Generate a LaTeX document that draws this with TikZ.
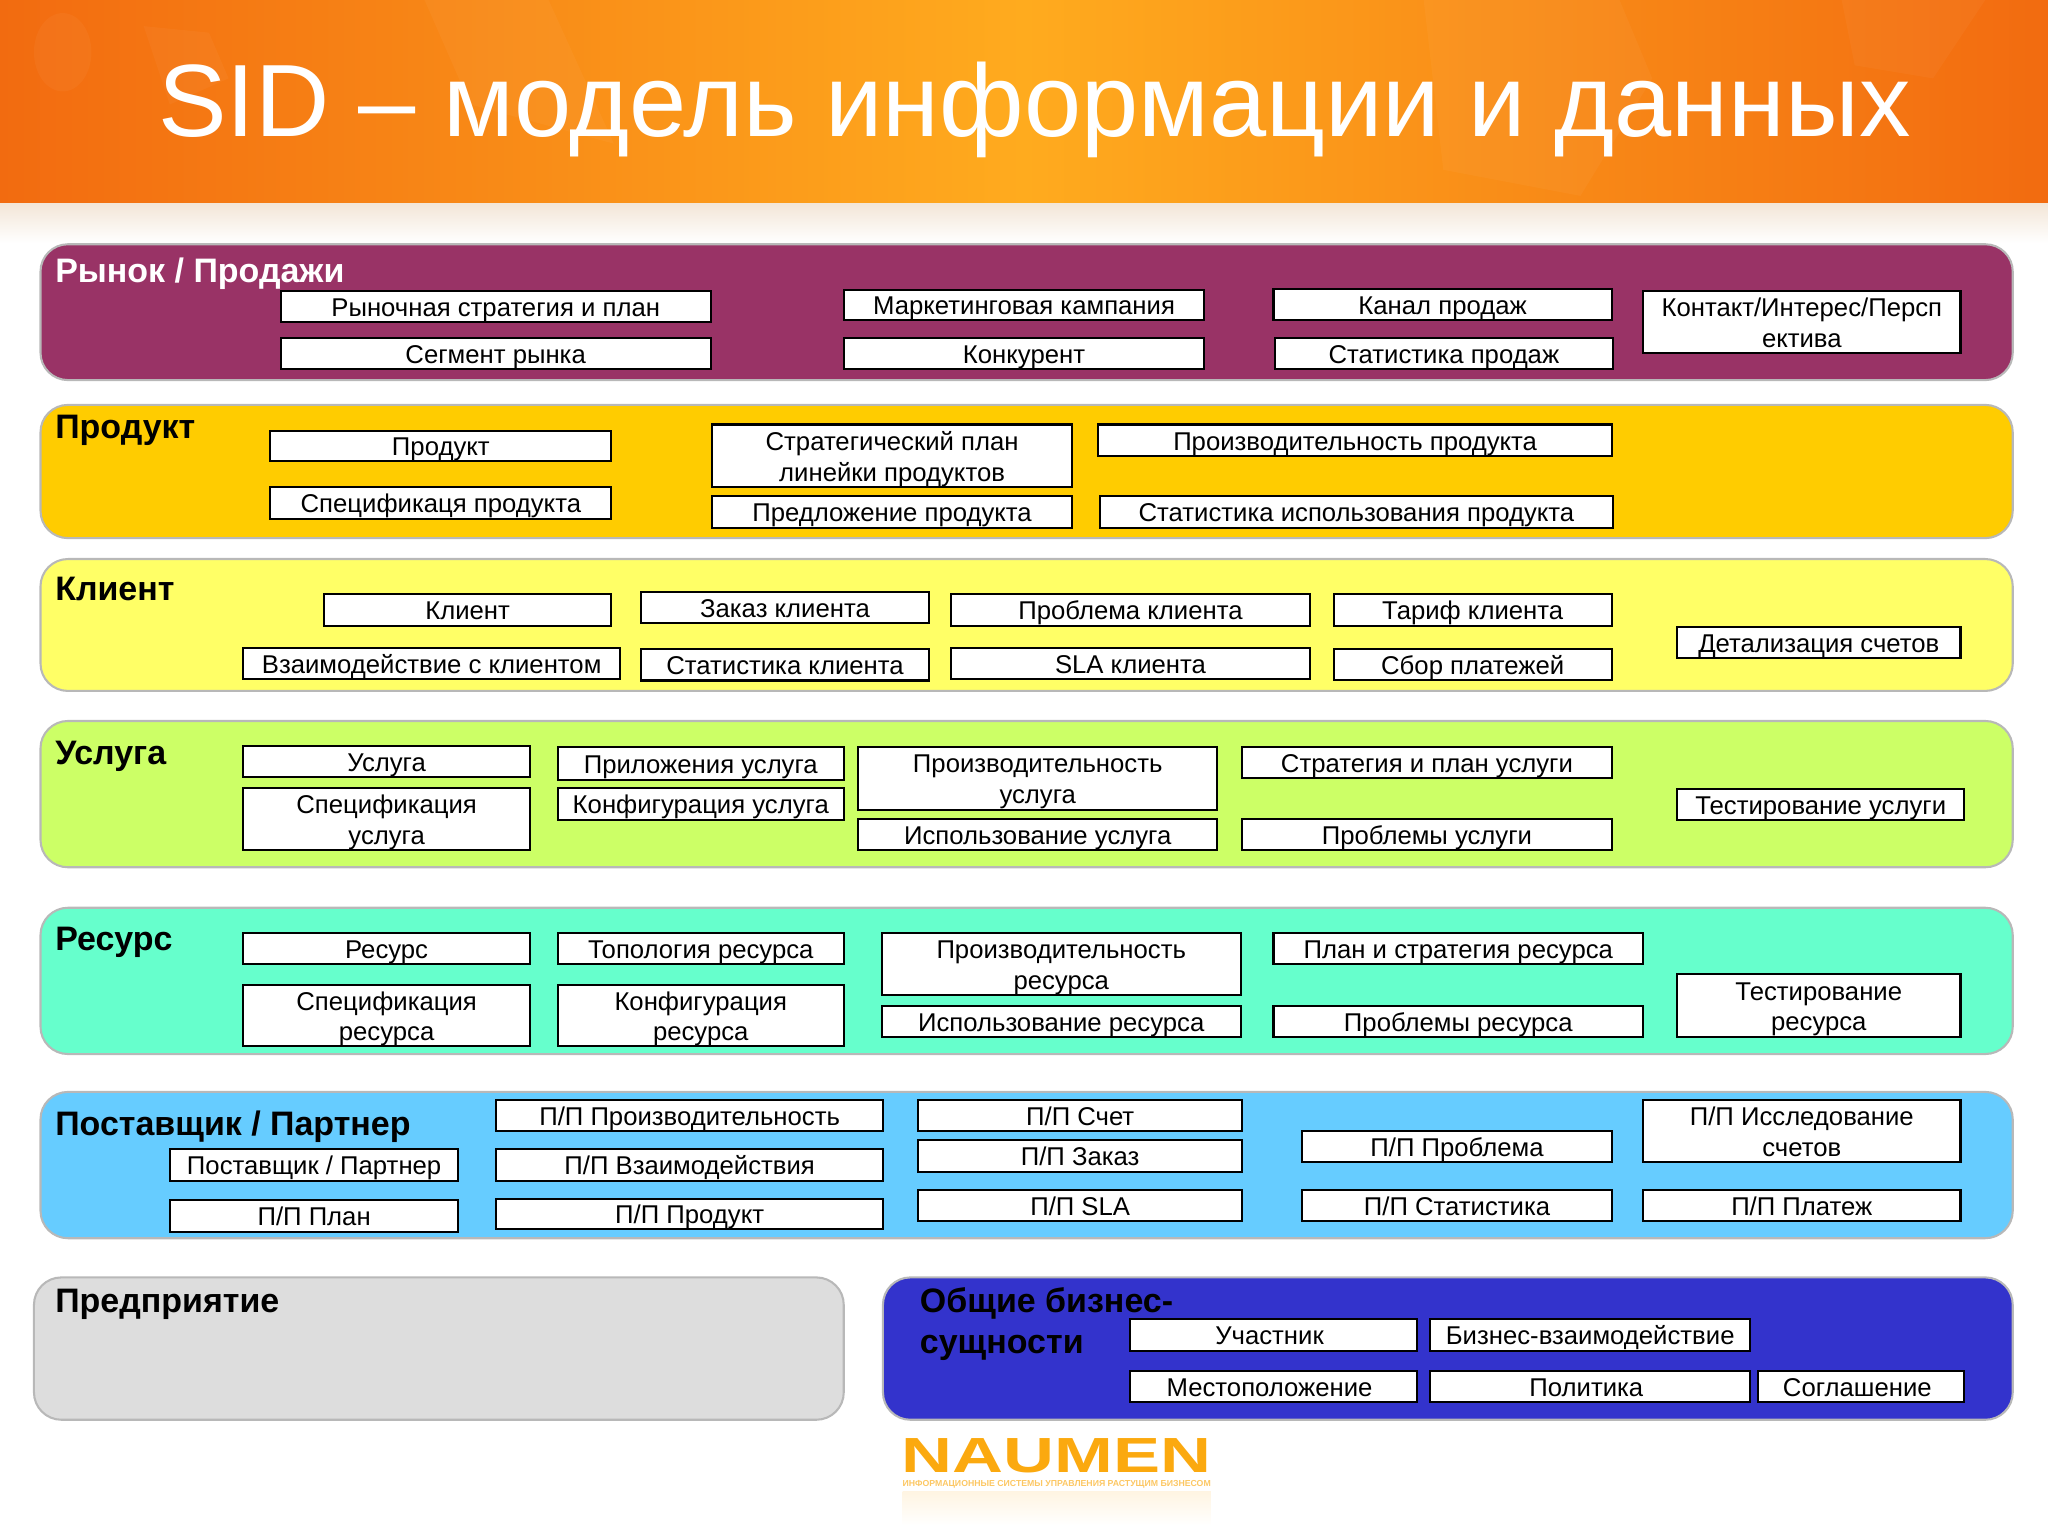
\documentclass[tikz,border=0pt]{standalone}
\usepackage{fontspec}
\setmainfont{Liberation Sans}
\newfontfamily\logofont[FakeStretch=1.43]{Liberation Sans}
\usepackage{xcolor}
\usetikzlibrary{positioning}

\definecolor{marketfill}{HTML}{993366}
\definecolor{productfill}{HTML}{FFCC00}
\definecolor{clientfill}{HTML}{FFFF66}
\definecolor{servicefill}{HTML}{CCFF66}
\definecolor{resourcefill}{HTML}{66FFCC}
\definecolor{supplierfill}{HTML}{66CCFF}
\definecolor{enterprisefill}{HTML}{DDDDDD}
\definecolor{commonfill}{HTML}{3333CC}
\definecolor{headedge}{HTML}{F26B10}
\definecolor{headmid}{HTML}{FFAB1E}
\definecolor{logoorange}{HTML}{FBA90F}
\definecolor{headshadow}{HTML}{F3E6D8}

\tikzset{
  panelbox/.style={draw=black!28, line width=0.9pt, rounded corners=0.42cm, inner sep=0pt},
  itembox/.style={draw=black, fill=white, line width=0.9pt, inner xsep=0pt, inner ysep=0pt,
    align=center, font=\fontsize{11.2}{13.4}\selectfont},
  paneltitle/.style={anchor=base west, inner sep=0pt, align=left,
    font=\fontsize{14.8}{17.7}\selectfont\bfseries},
  blobfill/.style={fill=white, opacity=0.035}
}

\newcommand{\itemstrut}{\rule[-2.4pt]{0pt}{13.4pt}}
\newcommand{\panelat}[6]{\node[panelbox, fill=#6, minimum width={(#4-#2)*0.02cm},
  minimum height={(#5-#3)*0.02cm}] (#1) at ({(#2+#4)/2},{(#3+#5)/2}) {};}
\newcommand{\itemat}[6]{\node[itembox, minimum width={(#4-#2)*0.02cm},
  minimum height={(#5-#3)*0.02cm}] (#1) at ({(#2+#4)/2},{(#3+#5)/2}) {\itemstrut#6\itemstrut};}

\begin{document}
\begin{tikzpicture}[x=0.02cm,y=-0.02cm]
  \useasboundingbox (0,0) rectangle (1568,1176);

  % header
  \fill[left color=headedge, right color=headedge, middle color=headmid] (0,0) rectangle (1568,155);
  \fill[blobfill] (48,40) ellipse (22 and 30);
  \fill[blobfill] (110,20) -- (160,25) -- (175,60) -- (130,80) -- cycle;
  \fill[blobfill] (325,0) -- (420,0) -- (470,110) -- (360,80) -- cycle;
  \fill[blobfill] (1090,0) -- (1240,0) -- (1265,60) -- (1210,150) -- (1105,130) -- cycle;
  \fill[blobfill] (1410,0) -- (1520,0) -- (1480,60) -- (1420,50) -- cycle;
  \fill[top color=headshadow, bottom color=white] (0,156) rectangle (1568,186);
  \node[text=white, font=\fontsize{44.8}{50}\selectfont] (title) at (792,84) {SID – модель информации и данных};

  % panels
  \panelat{market}{31}{187}{1541}{291}{marketfill}
  \panelat{product}{31}{310}{1541}{412}{productfill}
  \panelat{client}{31}{428}{1541}{529}{clientfill}
  \panelat{service}{31}{552}{1541}{664}{servicefill}
  \panelat{resource}{31}{695}{1541}{807}{resourcefill}
  \panelat{supplier}{31}{836}{1541}{948}{supplierfill}
  \panelat{enterprise}{26}{978}{646}{1087}{enterprisefill}
  \panelat{common}{676}{978}{1541}{1087}{commonfill}

  \node[paneltitle, text=white] (markettitle) at (42,216) {Рынок / Продажи};
  \node[paneltitle] (producttitle) at (42,336) {Продукт};
  \node[paneltitle] (clienttitle) at (42,460) {Клиент};
  \node[paneltitle] (servicetitle) at (42,585) {Услуга};
  \node[paneltitle] (resourcetitle) at (42,728) {Ресурс};
  \node[paneltitle] (suppliertitle) at (42,869) {Поставщик / Партнер};
  \node[paneltitle] (enterprisetitle) at (42,1005) {Предприятие};
  \node[paneltitle] (commontitle) at (704,1036) {Общие бизнес-\\сущности};

  % market
  \itemat{mktplan}{215}{223}{544}{246}{Рыночная стратегия и план}
  \itemat{mktsegment}{215}{259}{544}{282}{Сегмент рынка}
  \itemat{mktcampaign}{646}{222}{922}{245}{Маркетинговая кампания}
  \itemat{mktrival}{646}{259}{922}{282}{Конкурент}
  \itemat{mktchannel}{975}{221}{1234}{245}{Канал продаж}
  \itemat{mktstats}{976}{259}{1235}{282}{Статистика продаж}
  \itemat{mktcontact}{1258}{223}{1501}{270}{Контакт/Интерес/Персп\\ектива}

  % product
  \itemat{prod}{207}{330}{468}{353}{Продукт}
  \itemat{prodspec}{207}{373}{468}{397}{Спецификаця продукта}
  \itemat{prodplan}{545}{325}{821}{373}{Стратегический план\\линейки продуктов}
  \itemat{prodoffer}{545}{380}{821}{404}{Предложение продукта}
  \itemat{prodperf}{841}{325}{1234}{349}{Производительность продукта}
  \itemat{produse}{842}{380}{1235}{404}{Статистика использования продукта}

  % client
  \itemat{cli}{248}{455}{468}{479}{Клиент}
  \itemat{cliorder}{491}{453}{711}{477}{Заказ клиента}
  \itemat{cliissue}{728}{455}{1003}{479}{Проблема клиента}
  \itemat{clirate}{1021}{455}{1234}{479}{Тариф клиента}
  \itemat{cliact}{186}{496}{475}{520}{Взаимодействие с клиентом}
  \itemat{clistats}{491}{497}{711}{521}{Статистика клиента}
  \itemat{clisla}{728}{496}{1003}{520}{SLA клиента}
  \itemat{clipay}{1021}{497}{1234}{520}{Сбор платежей}
  \itemat{clibill}{1284}{480}{1501}{504}{Детализация счетов}

  % service
  \itemat{srv}{186}{571}{406}{595}{Услуга}
  \itemat{srvspec}{186}{603}{406}{651}{Спецификация\\услуга}
  \itemat{srvapp}{427}{572}{646}{597}{Приложения услуга}
  \itemat{srvconf}{427}{603}{646}{628}{Конфигурация услуга}
  \itemat{srvperf}{657}{572}{932}{620}{Производительность\\услуга}
  \itemat{srvuse}{657}{627}{932}{651}{Использование услуга}
  \itemat{srvplan}{951}{572}{1234}{596}{Стратегия и план услуги}
  \itemat{srvissue}{951}{627}{1234}{651}{Проблемы услуги}
  \itemat{srvtest}{1284}{604}{1504}{628}{Тестирование услуги}

  % resource
  \itemat{res}{186}{714}{406}{738}{Ресурс}
  \itemat{resspec}{186}{754}{406}{801}{Спецификация\\ресурса}
  \itemat{restopo}{427}{714}{646}{738}{Топология ресурса}
  \itemat{resconf}{427}{754}{646}{801}{Конфигурация\\ресурса}
  \itemat{resperf}{675}{714}{950}{762}{Производительность\\ресурса}
  \itemat{resuse}{675}{770}{950}{794}{Использование ресурса}
  \itemat{resplan}{975}{714}{1258}{738}{План и стратегия ресурса}
  \itemat{resissue}{975}{770}{1258}{794}{Проблемы ресурса}
  \itemat{restest}{1284}{746}{1501}{794}{Тестирование\\ресурса}

  % supplier
  \itemat{sup}{130}{880}{351}{904}{Поставщик / Партнер}
  \itemat{supplan}{130}{919}{351}{943}{П/П План}
  \itemat{supperf}{380}{842}{676}{866}{П/П Производительность}
  \itemat{supact}{380}{880}{676}{904}{П/П Взаимодействия}
  \itemat{supprod}{380}{918}{676}{941}{П/П Продукт}
  \itemat{supbill}{703}{842}{951}{866}{П/П Счет}
  \itemat{suporder}{703}{873}{951}{897}{П/П Заказ}
  \itemat{supsla}{703}{911}{951}{935}{П/П SLA}
  \itemat{supissue}{997}{866}{1234}{890}{П/П Проблема}
  \itemat{supstats}{997}{911}{1234}{935}{П/П Статистика}
  \itemat{supaudit}{1258}{842}{1501}{890}{П/П Исследование\\счетов}
  \itemat{suppay}{1258}{911}{1501}{935}{П/П Платеж}

  % common
  \itemat{comparty}{865}{1010}{1085}{1034}{Участник\hspace{3.4pt}}
  \itemat{combiz}{1095}{1010}{1340}{1034}{Бизнес-взаимодействие}
  \itemat{complace}{865}{1050}{1085}{1073}{Местоположение\hspace{3.4pt}}
  \itemat{compolicy}{1095}{1050}{1340}{1073}{Политика\hspace{3.4pt}}
  \itemat{comdeal}{1346}{1050}{1504}{1073}{Соглашение\hspace{3.4pt}}

  % logo
  \node[text=logoorange, inner sep=0pt, anchor=base, font=\logofont\fontsize{21.5}{22}\selectfont\bfseries]
    (logo) at (809,1127) {NAUMEN};
  \node[text=logoorange!65, inner sep=0pt, anchor=base, font=\fontsize{3.8}{5}\selectfont\bfseries]
    (logotag) at (809,1138) {ИНФОРМАЦИОННЫЕ СИСТЕМЫ УПРАВЛЕНИЯ РАСТУЩИМ БИЗНЕСОМ};
  \fill[top color=logoorange!12, bottom color=white] (691,1142) rectangle (927,1168);
\end{tikzpicture}
\end{document}
